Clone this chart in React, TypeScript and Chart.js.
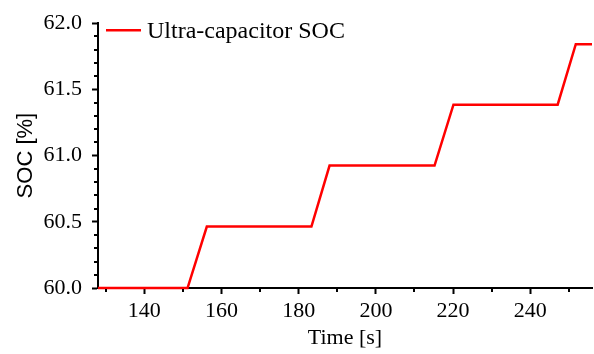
import React, { useEffect, useRef } from 'react';
import { Chart, registerables } from 'chart.js';

Chart.register(...registerables);

// ---- data ----
const timeS = [128, 151.2, 156.2, 183.3, 188.0, 215.2, 220.1, 247.1, 251.8, 256];
const socPct = [60.0, 60.0, 60.464, 60.464, 60.925, 60.925, 61.385, 61.385, 61.841, 61.841];
const xTicks = [140, 160, 180, 200, 220, 240];
const xMinorTicks = [130, 150, 170, 190, 210, 230, 250];
const yTicks = [60.0, 60.5, 61.0, 61.5, 62.0];
const yMinorTicks = [60.1, 60.2, 60.3, 60.4, 60.6, 60.7, 60.8, 60.9, 61.1, 61.2, 61.3, 61.4, 61.6, 61.7, 61.8, 61.9];
const seriesLabel = 'Ultra-capacitor SOC';
const xTitle = 'Time [s]';
const yTitle = 'SOC [%]';
const xMin = 128;
const xMax = 256;
const yMin = 60;
const yMax = 62;

const SERIF = '"Liberation Serif", "Times New Roman", serif';
const SANS = '"Liberation Sans", Arial, sans-serif';
const RED = '#ff0000';

const overlayPlugin = {
  id: 'overlay',
  afterDraw(chart: any) {
    const { ctx, chartArea, scales } = chart;
    const x = scales.x;
    const y = scales.y;
    ctx.save();
    ctx.strokeStyle = '#000';
    ctx.lineWidth = 2;
    ctx.beginPath();
    for (const v of xMinorTicks) {
      const px = Math.round(x.getPixelForValue(v));
      ctx.moveTo(px, chartArea.bottom + 1);
      ctx.lineTo(px, chartArea.bottom + 4);
    }
    for (const v of yMinorTicks) {
      const py = Math.round(y.getPixelForValue(v));
      ctx.moveTo(chartArea.left - 1, py);
      ctx.lineTo(chartArea.left - 4, py);
    }
    ctx.stroke();

    // legend
    const ly = chartArea.top + 7;
    ctx.strokeStyle = RED;
    ctx.lineWidth = 2.5;
    ctx.beginPath();
    ctx.moveTo(chartArea.left + 8, ly);
    ctx.lineTo(chartArea.left + 43, ly);
    ctx.stroke();
    ctx.fillStyle = '#000';
    ctx.font = `24px ${SERIF}`;
    ctx.textAlign = 'left';
    ctx.textBaseline = 'alphabetic';
    ctx.fillText(seriesLabel, chartArea.left + 49, chartArea.top + 14.5);
    ctx.restore();
  },
};

export default function App() {
  const canvasRef = useRef<HTMLCanvasElement | null>(null);

  useEffect(() => {
    const canvas = canvasRef.current;
    if (!canvas) return;
    const chart = new Chart(canvas, {
      type: 'line',
      data: {
        datasets: [
          {
            label: seriesLabel,
            data: timeS.map((t, i) => ({ x: t, y: socPct[i] })),
            borderColor: RED,
            backgroundColor: RED,
            borderWidth: 2.5,
            pointRadius: 0,
            tension: 0,
            fill: false,
            clip: false,
          },
        ],
      },
      options: {
        responsive: false,
        animation: false,
        events: [],
        layout: { padding: { left: 0, top: 15, right: 2, bottom: 0 } },
        plugins: {
          legend: { display: false },
          tooltip: { enabled: false },
        },
        scales: {
          x: {
            type: 'linear',
            min: xMin,
            max: xMax,
            afterBuildTicks: (scale: any) => {
              scale.ticks = xTicks.map((v) => ({ value: v }));
            },
            afterFit: (scale: any) => {
              scale.height = 66;
            },
            grid: {
              drawOnChartArea: false,
              drawTicks: true,
              tickLength: 6,
              tickWidth: 2,
              tickColor: '#000',
              z: -1,
            },
            border: { display: true, width: 2, color: '#000', z: -1 },
            ticks: {
              autoSkip: false,
              maxRotation: 0,
              padding: 4,
              color: '#000',
              font: { family: SERIF, size: 22 },
              callback: (v: any) => String(v),
            },
            title: {
              display: true,
              text: xTitle,
              color: '#000',
              font: { family: SERIF, size: 22 },
              padding: { top: 0, bottom: 3 },
            },
          },
          y: {
            type: 'linear',
            min: yMin,
            max: yMax,
            afterBuildTicks: (scale: any) => {
              scale.ticks = yTicks.map((v) => ({ value: v }));
            },
            afterFit: (scale: any) => {
              scale.width = 98;
            },
            grid: {
              drawOnChartArea: false,
              drawTicks: true,
              tickLength: 6,
              tickWidth: 2,
              tickColor: '#000',
              z: -1,
            },
            border: { display: true, width: 2, color: '#000', z: -1 },
            ticks: {
              autoSkip: false,
              padding: 10,
              color: '#000',
              font: { family: SERIF, size: 22 },
              callback: (v: any) => Number(v).toFixed(1),
            },
            title: {
              display: true,
              text: yTitle,
              color: '#000',
              font: { family: SANS, size: 22 },
              padding: { top: 13, bottom: 0 },
            },
          },
        },
      },
      plugins: [overlayPlugin],
    } as any);
    return () => chart.destroy();
  }, []);

  return (
    <div style={{ position: 'fixed', left: 0, top: 0, width: 594, height: 354, background: '#fff' }}>
      <canvas ref={canvasRef} width={594} height={354} style={{ display: 'block' }} />
    </div>
  );
}
